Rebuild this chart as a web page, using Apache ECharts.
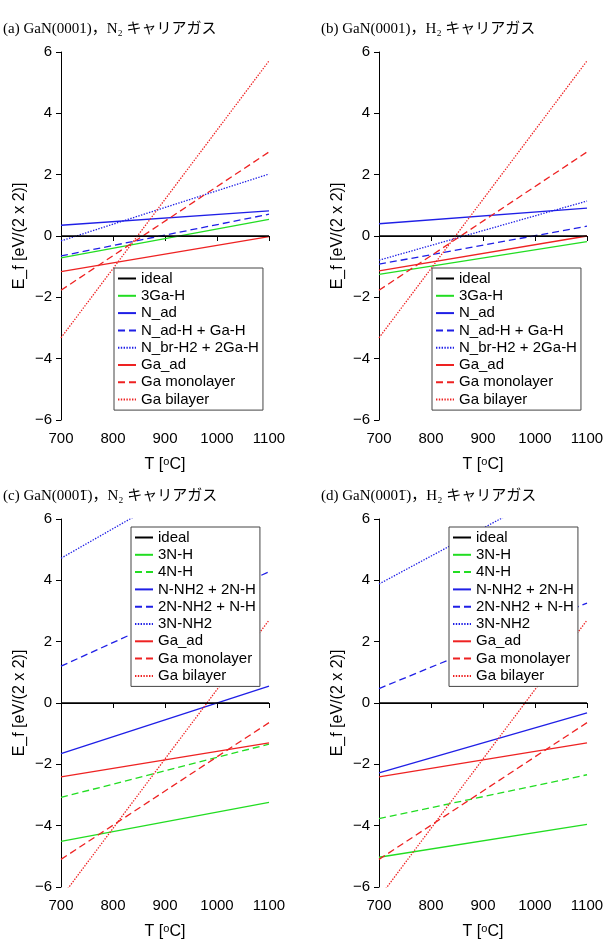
<!DOCTYPE html>
<html><head><meta charset="utf-8">
<script src="https://cdn.jsdelivr.net/npm/echarts@6/dist/echarts.min.js"></script>
<style>html,body{margin:0;padding:0;background:#fff}#c{width:607px;height:944px}</style>
</head><body><div id="c"></div><script>
// x positions of the two end points of every line
const T = [700, 1100];
const xTickMin = 700, xTickMax = 1100, xTickStep = 100;
const yTickMin = -6, yTickMax = 6, yTickStep = 2;

// panel titles (rich text segments)
const titles = [
  '{t|(a) GaN(0001)，N₂ キャリアガス}',
  '{t|(b) GaN(0001)，H₂ キャリアガス}',
  '{t|(c) GaN(000}{o|1̅}{t|)，N₂ キャリアガス}',
  '{t|(d) GaN(000}{o|1̅}{t|)，H₂ キャリアガス}'
];

// legend names
const namesTop = ['ideal','3Ga-H','N_ad','N_ad-H + Ga-H','N_br-H2 + 2Ga-H','Ga_ad','Ga monolayer','Ga bilayer'];
const namesBottom = ['ideal','3N-H','4N-H','N-NH2 + 2N-H','2N-NH2 + N-H','3N-NH2','Ga_ad','Ga monolayer','Ga bilayer'];

// panel (a) values at 700 and 1100 °C
const a_ideal = [0, 0];
const a_3GaH = [-0.71, 0.54];
const a_Nad = [0.35, 0.82];
const a_NadH_GaH = [-0.65, 0.71];
const a_NbrH2_2GaH = [-0.16, 2.02];
const a_Gaad = [-1.16, -0.02];
const a_GaMono = [-1.77, 2.74];
const a_GaBi = [-3.32, 5.71];
// panel (b)
const b_ideal = [0, 0];
const b_3GaH = [-1.25, -0.18];
const b_Nad = [0.40, 0.91];
const b_NadH_GaH = [-0.92, 0.32];
const b_NbrH2_2GaH = [-0.79, 1.14];
const b_Gaad = [-1.14, 0.0];
const b_GaMono = [-1.77, 2.74];
const b_GaBi = [-3.32, 5.71];
// panel (c)
const c_ideal = [0, 0];
const c_3NH = [-4.51, -3.24];
const c_4NH = [-3.08, -1.34];
const c_NNH2_2NH = [-1.65, 0.55];
const c_2NNH2_NH = [1.20, 4.28];
const c_3NNH2 = [4.72, 8.58];
const c_Gaad = [-2.41, -1.30];
const c_GaMono = [-5.10, -0.64];
const c_GaBi = [-6.35, 2.70];
// panel (d)
const d_ideal = [0, 0];
const d_3NH = [-5.03, -3.96];
const d_4NH = [-3.77, -2.34];
const d_NNH2_2NH = [-2.28, -0.32];
const d_2NNH2_NH = [0.47, 3.26];
const d_3NNH2 = [3.88, 7.52];
const d_Gaad = [-2.41, -1.30];
const d_GaMono = [-5.10, -0.64];
const d_GaBi = [-6.35, 2.70];

const GREEN = '#22dd22', BLUE = '#1f1fe6', RED = '#ee2222', BLACK = '#000';
const DASH = [7, 4], DOT = [1.4, 1.4];
const styles = {
  'ideal': [BLACK, 'solid'],
  '3Ga-H': [GREEN, 'solid'],
  'N_ad': [BLUE, 'solid'],
  'N_ad-H + Ga-H': [BLUE, DASH],
  'N_br-H2 + 2Ga-H': [BLUE, DOT],
  'Ga_ad': [RED, 'solid'],
  'Ga monolayer': [RED, DASH],
  'Ga bilayer': [RED, DOT],
  '3N-H': [GREEN, 'solid'],
  '4N-H': [GREEN, DASH],
  'N-NH2 + 2N-H': [BLUE, 'solid'],
  '2N-NH2 + N-H': [BLUE, DASH],
  '3N-NH2': [BLUE, DOT]
};

const panelData = [
  [a_ideal, a_3GaH, a_Nad, a_NadH_GaH, a_NbrH2_2GaH, a_Gaad, a_GaMono, a_GaBi],
  [b_ideal, b_3GaH, b_Nad, b_NadH_GaH, b_NbrH2_2GaH, b_Gaad, b_GaMono, b_GaBi],
  [c_ideal, c_3NH, c_4NH, c_NNH2_2NH, c_2NNH2_NH, c_3NNH2, c_Gaad, c_GaMono, c_GaBi],
  [d_ideal, d_3NH, d_4NH, d_NNH2_2NH, d_2NNH2_NH, d_3NNH2, d_Gaad, d_GaMono, d_GaBi]
];
const panelNames = [namesTop, namesTop, namesBottom, namesBottom];

const AX_FONT = '"Liberation Sans", "Noto Sans CJK JP", sans-serif';
const SERIF = '"Liberation Serif", "Noto Sans CJK JP", serif';

const gridPos = [
  {left: 61, top: 52, width: 208, height: 368},
  {left: 379, top: 52, width: 208, height: 368},
  {left: 61, top: 519, width: 208, height: 368},
  {left: 379, top: 519, width: 208, height: 368}
];
const titlePos = [{left: 3, top: 22}, {left: 321, top: 22}, {left: 3, top: 489}, {left: 321, top: 489}];
const legendPos = [
  {left: 114, top: 268}, {left: 432, top: 268},
  {left: 131, top: 527}, {left: 449, top: 527}
];

const option = {
  animation: false,
  backgroundColor: '#fff',
  title: titles.map((t, i) => ({
    text: t, left: titlePos[i].left, top: titlePos[i].top, padding: 0,
    textStyle: {fontWeight: 'normal', rich: {
      t: {fontFamily: SERIF, fontSize: 15, fontWeight: 'normal', color: '#000'},
      o: {fontFamily: '"DejaVu Serif", serif', fontSize: 13, fontWeight: 'normal', color: '#000'}
    }}
  })),
  grid: gridPos.map(g => Object.assign({containLabel: false}, g)),
  xAxis: gridPos.map((g, i) => ({
    type: 'value', gridIndex: i, min: xTickMin, max: xTickMax, interval: xTickStep,
    name: '{a|T [}{s|o}{a|C]}', nameLocation: 'middle', nameGap: 36,
    nameTextStyle: {rich: {
      a: {fontFamily: AX_FONT, fontSize: 16, color: '#000'},
      s: {fontFamily: AX_FONT, fontSize: 11, color: '#000', verticalAlign: 'top', padding: [0, 0, 6, 0]}
    }},
    axisLine: {show: true, lineStyle: {color: '#000', width: 1}},
    axisTick: {show: true, length: 5, lineStyle: {color: '#000'}},
    axisLabel: {fontFamily: AX_FONT, fontSize: 15, color: '#000', margin: 11,
      formatter: v => String(v)},
    splitLine: {show: false}
  })),
  yAxis: gridPos.map((g, i) => ({
    type: 'value', gridIndex: i, min: yTickMin, max: yTickMax, interval: yTickStep,
    name: 'E_f [eV/(2 x 2)]', nameLocation: 'middle', nameGap: 33, nameRotate: 90,
    nameTextStyle: {fontFamily: AX_FONT, fontSize: 16, color: '#000'},
    axisLine: {show: true, lineStyle: {color: '#000', width: 1}},
    axisTick: {show: true, length: 5, lineStyle: {color: '#000'}},
    axisLabel: {fontFamily: AX_FONT, fontSize: 15, color: '#000', margin: 9,
      formatter: v => String(v).replace('-', '−')},
    splitLine: {show: false}
  })),
  legend: legendPos.map((p, i) => ({
    left: p.left, top: p.top, orient: 'vertical', selectedMode: false,
    data: panelNames[i], itemWidth: 18, itemHeight: 14, itemGap: 2.3,
    padding: [3, 4, 3, 3], borderColor: '#444', borderWidth: 1, backgroundColor: '#fff',
    itemStyle: {opacity: 0},
    textStyle: {fontFamily: AX_FONT, fontSize: 15, lineHeight: 14, color: '#000'}
  })),
  series: []
};

panelData.forEach((list, p) => {
  list.forEach((vals, k) => {
    const name = panelNames[p][k];
    const st = styles[name];
    option.series.push({
      type: 'line', name: name, xAxisIndex: p, yAxisIndex: p,
      symbol: 'none', clip: true, z: name === 'ideal' ? 3 : 2,
      lineStyle: {color: st[0], type: st[1], width: 1.3},
      itemStyle: {color: st[0]},
      data: T.map((t, j) => [t, vals[j]])
    });
  });
});

const chart = echarts.init(document.getElementById('c'), null, {renderer: 'canvas'});
chart.setOption(option);
</script></body></html>
